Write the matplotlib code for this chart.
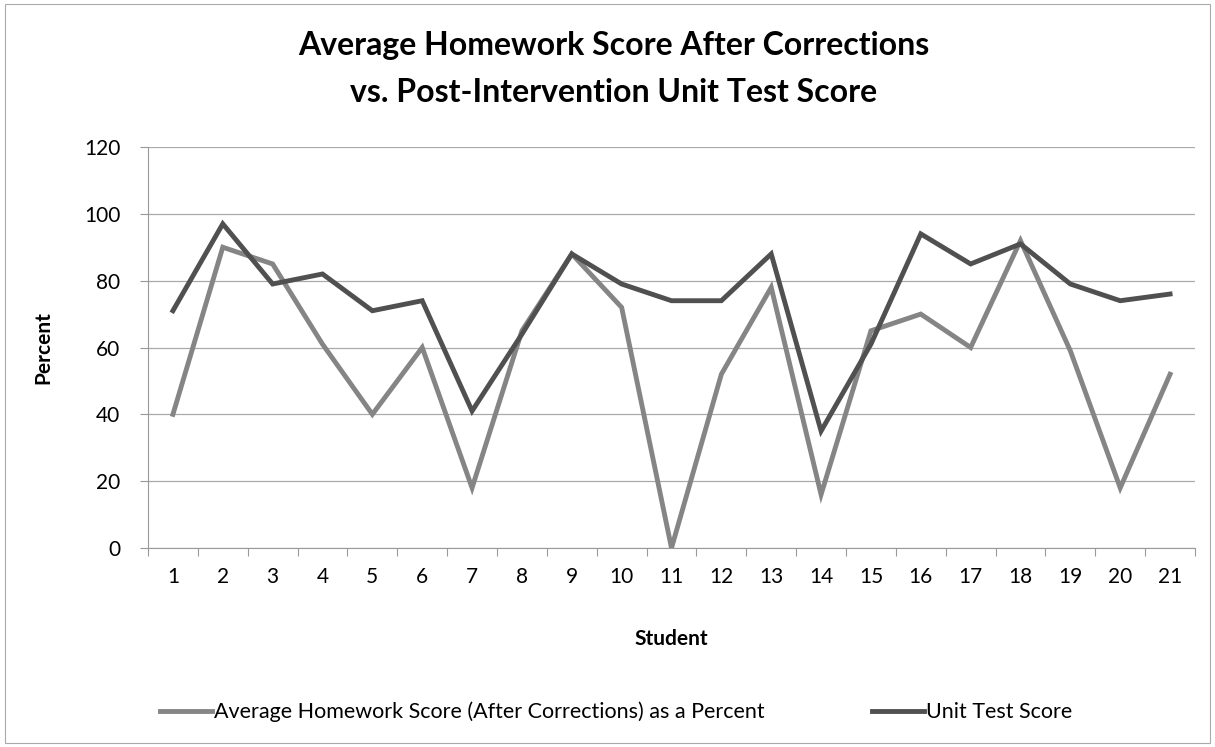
import matplotlib
matplotlib.use("Agg")
import matplotlib.pyplot as plt
from matplotlib.ticker import MultipleLocator, FixedLocator
from matplotlib.patches import Rectangle

students = list(range(1, 22))
homework = [40, 90, 85, 61, 40, 60, 18, 65, 88, 72, 0, 52, 78, 16, 65, 70, 60, 92, 59, 18, 52]
unit_test = [71, 97, 79, 82, 71, 74, 41, 64, 88, 79, 74, 74, 88, 35, 61, 94, 85, 91, 79, 74, 76]

title = "Average Homework Score After Corrections\nvs. Post-Intervention Unit Test Score"
hw_label = "Average Homework Score (After Corrections) as a Percent"
test_label = "Unit Test Score"

plt.rcParams['font.family'] = ['Lato', 'DejaVu Sans']

fig = plt.figure(figsize=(12.15, 7.47), dpi=100)
ax = fig.add_axes([148/1215, 1-548/747, (1195-148)/1215, (548-147)/747])

ax.plot(students, homework, color='#858585', lw=3.5, label=hw_label, solid_joinstyle='miter')
ax.plot(students, unit_test, color='#505050', lw=3.5, label=test_label, solid_joinstyle='miter')

ax.set_xlim(0.5, 21.5)
ax.set_ylim(0, 120)
ax.yaxis.set_major_locator(MultipleLocator(20))
ax.set_xticks(students)
ax.set_xticklabels([str(s) for s in students])
ax.xaxis.set_minor_locator(FixedLocator([s + 0.5 for s in range(0, 22)]))
ax.tick_params(axis='x', which='major', length=0, pad=14, labelsize=15)
ax.tick_params(axis='x', which='minor', length=6, color='#999999', width=0.8)
ax.tick_params(axis='y', which='major', length=6, color='#999999', width=0.8, labelsize=15, pad=14)

ax.grid(axis='y', color='#aaaaaa', lw=0.9)
ax.set_axisbelow(True)
for s in ['top', 'right']:
    ax.spines[s].set_visible(False)
ax.spines['left'].set_color('#999999')
ax.spines['bottom'].set_color('#999999')
ax.spines['left'].set_linewidth(0.8)
ax.spines['bottom'].set_linewidth(0.8)

ax.set_xlabel("Student", fontsize=15, fontweight='bold', labelpad=30)
ax.set_ylabel("Percent", fontsize=15, fontweight='bold', labelpad=22)

fig.text(0.505, 0.907, title, ha='center', va='center', fontsize=23, fontweight='bold', linespacing=1.75)

fig.legend(loc='center', bbox_to_anchor=(0.507, 0.047), ncol=2, frameon=False,
           fontsize=15.5, handlelength=2.4, handletextpad=0.1, columnspacing=5)

fig.patches.append(Rectangle((0.004, 0.006), 0.992, 0.988, transform=fig.transFigure,
                             fill=False, edgecolor='#aaaaaa', lw=0.8))

fig.savefig("out.png", dpi=100)
